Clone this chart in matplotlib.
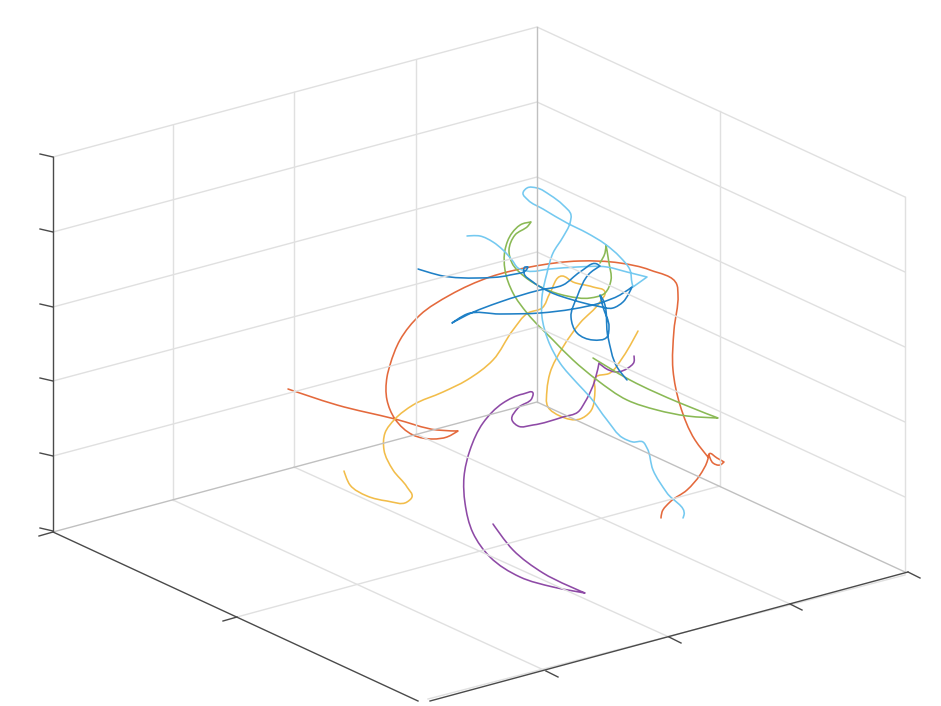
import numpy as np
import matplotlib
matplotlib.use("Agg")
import matplotlib.pyplot as plt
from matplotlib.path import Path
from matplotlib.patches import PathPatch

# values, in screen pixels of the projected 3D view
sky_x = [467, 480, 493, 503, 512, 518, 527, 550, 577, 607, 627, 647, 633, 632, 630, 620, 605, 587, 567, 543, 528, 523, 527, 537, 550, 563, 571, 570, 563, 553, 547, 542, 542, 548, 560, 577, 590, 607, 623, 633, 643, 647, 653, 667, 684, 683]
sky_y = [236, 236, 242, 250, 260, 268, 271, 269, 267, 267, 272, 277, 287, 283, 270, 257, 244, 233, 223, 209, 200, 193, 188, 188, 195, 205, 215, 223, 237, 253, 273, 297, 317, 340, 363, 383, 397, 420, 438, 442, 442, 448, 470, 493, 515, 518]

red_x = [288, 337, 395, 437, 458, 447, 433, 413, 395, 387, 387, 390, 400, 420, 450, 490, 530, 580, 620, 650, 677, 678, 674, 673, 680, 695, 708, 709, 717, 724, 720, 713, 709, 707, 700, 687, 670, 662, 661]
red_y = [389, 405, 419, 430, 431, 437, 439, 435, 419, 400, 377, 365, 340, 315, 295, 277, 267, 261, 263, 270, 285, 295, 330, 370, 405, 440, 457, 454, 458, 462, 465, 463, 455, 462, 475, 490, 502, 512, 518]

yellow_x = [344, 350, 367, 387, 407, 412, 407, 393, 384, 385, 395, 413, 443, 467, 493, 513, 528, 542, 550, 562, 573, 593, 605, 600, 580, 563, 550, 547, 548, 560, 580, 590, 595, 595, 610, 623, 638]
yellow_y = [471, 485, 496, 501, 502, 497, 487, 470, 450, 433, 419, 405, 392, 380, 360, 330, 313, 308, 293, 276, 282, 287, 292, 302, 323, 347, 373, 390, 407, 416, 419, 412, 390, 378, 373, 357, 331]

purple_x = [493, 513, 543, 585, 553, 520, 490, 473, 465, 464, 470, 483, 503, 523, 533, 532, 518, 512, 518, 533, 563, 578, 585, 595, 599, 605, 617, 628, 634, 634]
purple_y = [524, 550, 573, 593, 587, 577, 557, 533, 503, 477, 450, 423, 403, 394, 393, 398, 408, 420, 426, 425, 417, 412, 402, 380, 363, 368, 372, 368, 362, 356]

green_x = [593, 630, 680, 718, 687, 657, 627, 597, 573, 553, 527, 513, 505, 505, 512, 522, 531, 528, 515, 509, 512, 525, 543, 567, 590, 605, 611, 609, 606, 605, 600]
green_y = [358, 380, 403, 418, 416, 410, 400, 380, 360, 340, 313, 293, 270, 250, 233, 224, 222, 226, 235, 250, 263, 277, 288, 296, 298, 293, 280, 263, 245, 253, 263]

blue_x = [418, 443, 477, 510, 527, 528, 525, 524, 533, 550, 573, 597, 613, 623, 632, 620, 600, 573, 540, 500, 467, 452, 467, 500, 540, 563, 580, 597, 600, 590, 577, 571, 577, 593, 607, 609, 603, 600, 602, 608, 617, 627]
blue_y = [269, 276, 278, 275, 269, 267, 267, 273, 282, 292, 300, 306, 308, 302, 287, 295, 303, 309, 313, 314, 314, 323, 315, 302, 290, 285, 272, 264, 266, 273, 297, 317, 333, 340, 337, 327, 307, 295, 298, 337, 367, 380]

series = [
    (red_x, red_y, "#e4693c"),
    (yellow_x, yellow_y, "#f2bd4a"),
    (purple_x, purple_y, "#8e4aa6"),
    (green_x, green_y, "#8ab955"),
    (sky_x, sky_y, "#74c9f0"),
    (blue_x, blue_y, "#1f80c6"),
]

# box corners of the 3D axes
left_x, back_x, right_x = 53, 537, 905
wall_left_y = [157, 232, 307, 381, 456, 531]
wall_back_y = [27, 102, 177, 252, 327, 402]
wall_right_y = [197, 272, 347, 422, 497, 572]
vert_x = [173, 294, 416, 720]
vert_top = [125, 92, 60, 111]
vert_bot = [500, 467, 434, 486]
floor_end_x = [546, 669, 790]
floor_end_y = [671, 637, 604]
ztick_y = [157, 232, 307, 381, 456, 531]
xtick_x = [237]
xtick_y = [617]
ytick_x = [546, 669, 790, 908]
ytick_y = [671, 637, 604, 572]

GRID = "#e0e0e0"
EDGE = "#c0c0c0"
AXIS = "#4a4a4a"


def smooth_path(xs, ys):
    """Bezier segments through the read points, tangents follow chord length; sharp tips stay sharp."""
    p = np.column_stack([xs, ys]).astype(float)
    tang = np.zeros_like(p)
    for i in range(1, len(p) - 1):
        u = p[i] - p[i - 1]
        v = p[i + 1] - p[i]
        lu, lv = np.hypot(*u), np.hypot(*v)
        # turn of more than ~110 deg is a cusp in the curve
        if np.dot(u, v) / (lu * lv) < -0.35:
            continue
        t = u / lu * lv + v / lv * lu
        tang[i] = t / np.hypot(*t)
    verts, codes = [p[0]], [Path.MOVETO]
    for i in range(len(p) - 1):
        h = np.hypot(*(p[i + 1] - p[i])) / 3
        verts += [p[i] + tang[i] * h, p[i + 1] - tang[i + 1] * h, p[i + 1]]
        codes += [Path.CURVE4] * 3
    return Path(verts, codes)


fig = plt.figure(figsize=(9.41, 7.06), dpi=100)
ax = fig.add_axes([0, 0, 1, 1])
ax.set_xlim(0, 941)
ax.set_ylim(706, 0)
ax.axis("off")

# back walls
for a, b, c in zip(wall_left_y[:-1], wall_back_y[:-1], wall_right_y[:-1]):
    ax.plot([left_x, back_x, right_x], [a, b, c], color=GRID, lw=1.0)
for x, t, b in zip(vert_x, vert_top, vert_bot):
    ax.plot([x, x], [t, b], color=GRID, lw=1.0)
ax.plot([right_x, right_x], [wall_right_y[0], wall_right_y[-1]], color=GRID, lw=1.0)
ax.plot([back_x, back_x], [wall_back_y[0], wall_back_y[-1]], color=EDGE, lw=1.0)

# floor
for x0, y0, x1, y1 in zip(vert_x[:3], vert_bot[:3], floor_end_x, floor_end_y):
    ax.plot([x0, x1], [y0, y1], color=GRID, lw=1.0)
ax.plot([vert_x[3], xtick_x[0]], [vert_bot[3], xtick_y[0]], color=GRID, lw=1.0)
ax.plot([right_x, 428], [wall_right_y[-1] + 3, 699], color=GRID, lw=1.0)
ax.plot([left_x, back_x, right_x], [wall_left_y[-1] + 1, wall_back_y[-1], wall_right_y[-1]], color=EDGE, lw=1.0)

# axis lines and ticks
ax.plot([left_x, left_x], [ztick_y[0], ztick_y[-1]], color=AXIS, lw=1.0)
ax.plot([left_x, 418], [532, 701], color=AXIS, lw=1.0)
ax.plot([430, ytick_x[-1]], [701, ytick_y[-1]], color=AXIS, lw=1.0)
for y in ztick_y:
    ax.plot([left_x, left_x - 13], [y, y - 3], color=AXIS, lw=1.0)
ax.plot([left_x, left_x - 14], [532, 536], color=AXIS, lw=1.0)
for x, y in zip(xtick_x, xtick_y):
    ax.plot([x, x - 14], [y, y + 4], color=AXIS, lw=1.0)
for x, y in zip(ytick_x, ytick_y):
    ax.plot([x, x + 12], [y, y + 6], color=AXIS, lw=1.0)

for xs, ys, col in series:
    ax.add_patch(PathPatch(smooth_path(xs, ys), fill=False, edgecolor=col, lw=1.15, capstyle="round", joinstyle="round"))

fig.savefig("out.png", dpi=100)
